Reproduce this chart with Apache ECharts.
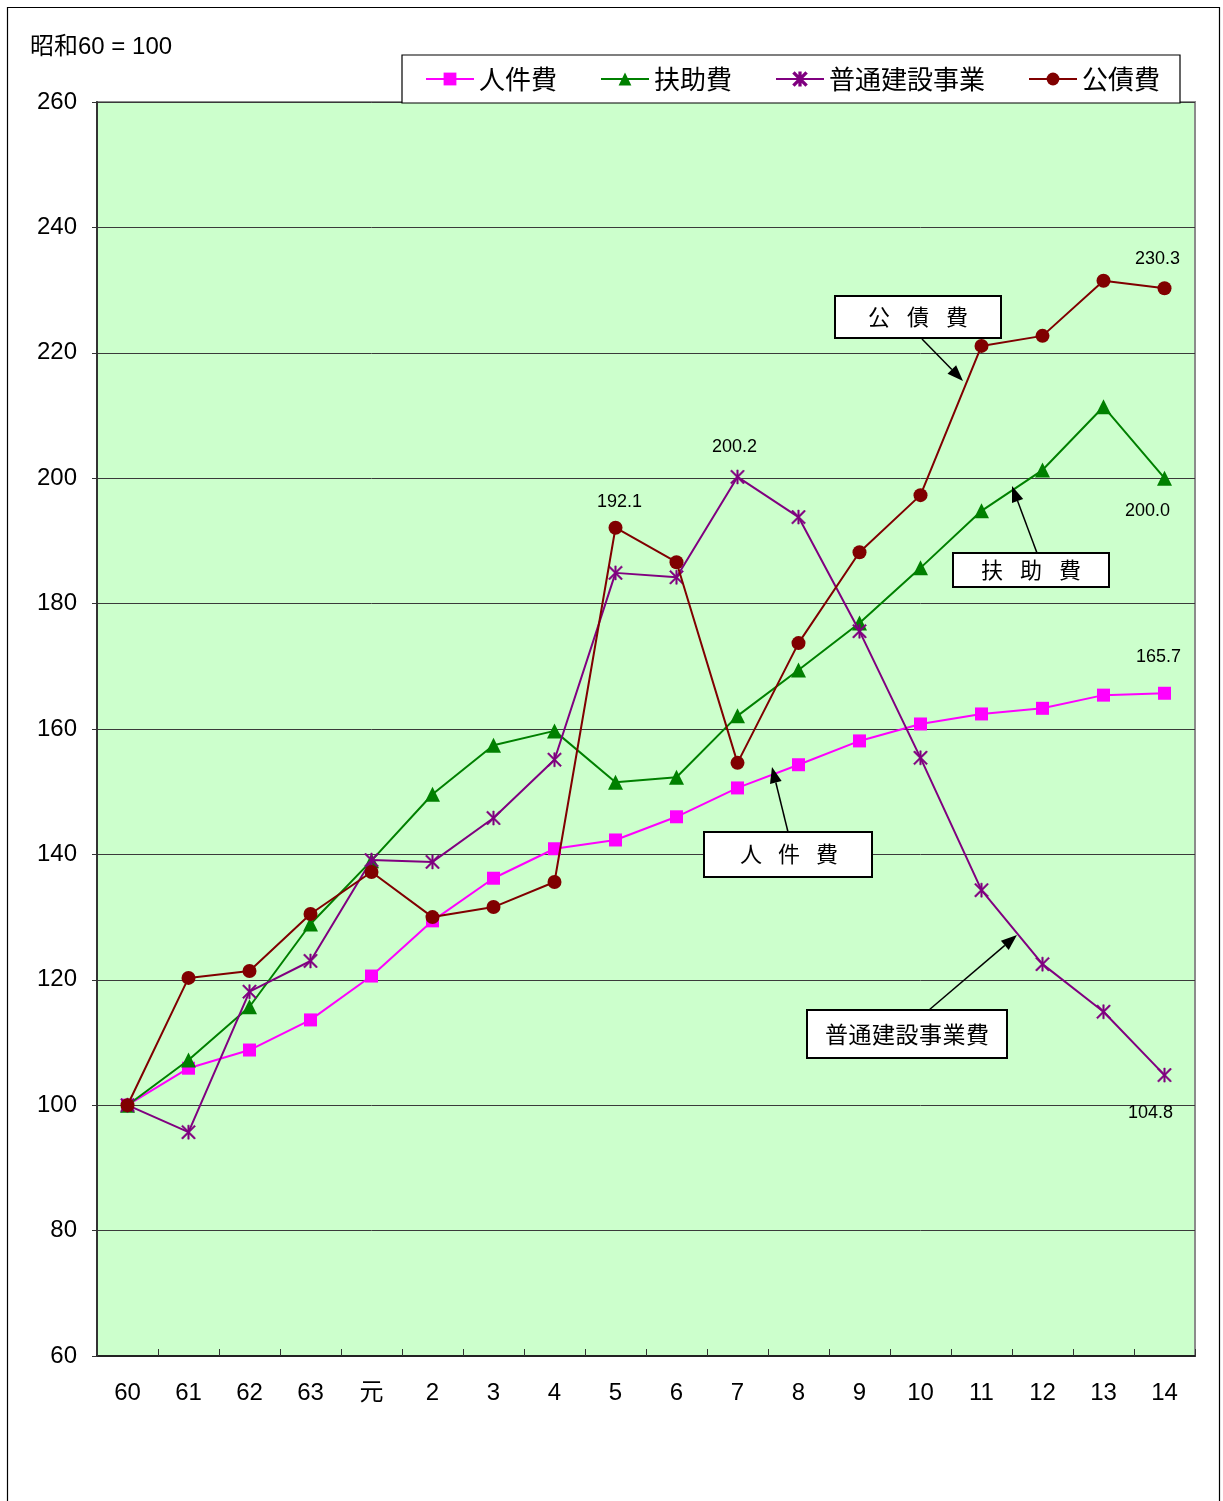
<!DOCTYPE html>
<html>
<head>
<meta charset="utf-8">
<script src="https://cdn.jsdelivr.net/npm/echarts@6/dist/echarts.min.js"></script>
<style>
html,body{margin:0;padding:0;background:#fff;}
#chart{width:1223px;height:1501px;}
</style>
</head>
<body>
<div id="chart"></div>
<script>
// ---- data ----
const categories = ['60','61','62','63','元','2','3','4','5','6','7','8','9','10','11','12','13','14'];
const seriesNames = ['人件費','扶助費','普通建設事業','公債費'];
const personnel    = [100,105.9,108.8,113.6,120.6,129.4,136.2,140.9,142.3,146.0,150.6,154.3,158.1,160.8,162.4,163.3,165.4,165.7];
const assistance   = [100,107.2,115.7,128.9,139.0,149.6,157.4,159.7,151.5,152.3,162.1,169.4,176.9,185.7,194.8,201.3,211.4,200.0];
const construction = [100,95.7,118.1,123.0,139.1,138.8,145.8,155.1,184.9,184.2,200.2,193.8,175.6,155.4,134.3,122.5,114.9,104.8];
const debt         = [100,120.3,121.4,130.5,137.2,130.0,131.6,135.6,192.1,186.6,154.6,173.7,188.2,197.3,221.1,222.7,231.5,230.3];
const yTicks = {min:60, max:260, interval:20};
const unitNote = '昭和60 = 100';

// labelled points: [seriesIndex, dataIndex, offset]
const labelled = [
  [3, 8, [4,-26]],
  [2, 10, [-3,-30]],
  [3, 17, [-7,-29]],
  [1, 17, [-17,33]],
  [0, 17, [-6,-36]],
  [2, 17, [-14,38]]
];

const colors = ['#FF00FF','#008000','#800080','#800000'];
const asterisk = 'path://M9 0L11 0L11 20L9 20Z M0 1.6L1.6 0L20 18.4L18.4 20Z M18.4 0L20 1.6L1.6 20L0 18.4Z';
const symbols = ['rect','triangle',asterisk,'circle'];
const symbolSizes = [13,15,14,14];
const allData = [personnel, assistance, construction, debt];

const FONT = '"Liberation Sans", Arial, "Noto Sans CJK JP", sans-serif';
const CJK = '"Noto Sans CJK JP", "Liberation Sans", sans-serif';

function buildData(si){
  return allData[si].map((v,i)=>{
    const l = labelled.find(d=>d[0]===si && d[1]===i);
    if(!l) return v;
    return {value:v, label:{show:true, position:'inside', offset:l[2], formatter:(p)=>p.value.toFixed(1),
      color:'#000', fontSize:18, fontFamily:FONT}};
  });
}

const series = seriesNames.map((n,si)=>({
  name:n, type:'line', data:buildData(si),
  symbol:symbols[si], symbolSize:symbolSizes[si],
  lineStyle:{color:colors[si], width:2},
  itemStyle:{color:colors[si], borderColor:colors[si], borderWidth: si===2?0.6:0},
  label:{show:false},
  emphasis:{disabled:true},
  animation:false, z:2+si
}));

function arrow(x1,y1,x2,y2){
  const dx=x2-x1, dy=y2-y1, L=Math.hypot(dx,dy), ux=dx/L, uy=dy/L;
  const hl=16, hw=6;
  const bx=x2-ux*hl, by=y2-uy*hl;
  return [
    {type:'line', shape:{x1:x1,y1:y1,x2:bx,y2:by}, style:{stroke:'#000', lineWidth:1.5}, z:100},
    {type:'polygon', shape:{points:[[x2,y2],[bx-uy*hw,by+ux*hw],[bx+uy*hw,by-ux*hw]]}, style:{fill:'#000'}, z:100}
  ];
}
function box(x,y,w,h){
  return {type:'rect', shape:{x:x,y:y,width:w,height:h}, style:{fill:'#fff', stroke:'#000', lineWidth:2}, z:100};
}
function spaced(text, cx, cy, pitch, size){
  const chars = text.split('');
  const start = cx - pitch*(chars.length-1)/2;
  return chars.map((c,i)=>({type:'text', x:start+i*pitch, y:cy,
    style:{text:c, fill:'#000', font:size+'px '+CJK, textAlign:'center', textVerticalAlign:'middle'}, z:101}));
}

const graphics = [].concat(
  [{type:'rect', shape:{x:7.5,y:7.5,width:1212,height:1500}, style:{fill:'none', stroke:'#000', lineWidth:1.2}, z:0}],
  [{type:'text', x:30, y:47, style:{text:unitNote, fill:'#000', font:'24px '+FONT, textVerticalAlign:'middle'}, z:100}],
  [box(835,296,166,42)], spaced('公債費', 918, 317, 39, 22), arrow(922,339,963,381),
  [box(953,553,156,34)], spaced('扶助費', 1031, 570, 39, 22), arrow(1037,553,1012,486),
  [box(704,832,168,45)], spaced('人件費', 789, 854, 38, 22), arrow(788,832,772,767),
  [box(807,1010,200,48)], spaced('普通建設事業費', 907, 1034, 23.5, 23), arrow(929,1010,1017,935)
);

const chart = echarts.init(document.getElementById('chart'), null, {renderer:'canvas'});
chart.setOption({
  animation:false,
  backgroundColor:'#fff',
  grid:{left:97, top:102, width:1098, height:1254, show:true, backgroundColor:'#CCFFCC',
        borderColor:'#8c8c8c', borderWidth:2, containLabel:false},
  legend:{
    data:seriesNames, left:402, top:55, orient:'horizontal',
    backgroundColor:'#fff', borderColor:'#000', borderWidth:1.2,
    padding:[11,20,11,23], itemGap:43, itemWidth:48, itemHeight:16,
    textStyle:{fontSize:26, fontFamily:CJK, color:'#000'},
    selectedMode:false
  },
  xAxis:{
    type:'category', data:categories, boundaryGap:true,
    axisLine:{lineStyle:{color:'#222', width:2}},
    axisTick:{show:true, inside:true, length:7, lineStyle:{color:'#333', width:1}},
    axisLabel:{fontSize:24, fontFamily:FONT, color:'#000', margin:25},
    splitLine:{show:false}
  },
  yAxis:{
    type:'value', min:yTicks.min, max:yTicks.max, interval:yTicks.interval,
    axisLine:{show:true, lineStyle:{color:'#333', width:2}},
    axisTick:{show:true, length:5, lineStyle:{color:'#333'}},
    axisLabel:{fontSize:24, fontFamily:FONT, color:'#000', margin:20},
    splitLine:{show:true, lineStyle:{color:'#3a3a3a', width:1}}
  },
  series:series,
  graphic:graphics
});
</script>
</body>
</html>
